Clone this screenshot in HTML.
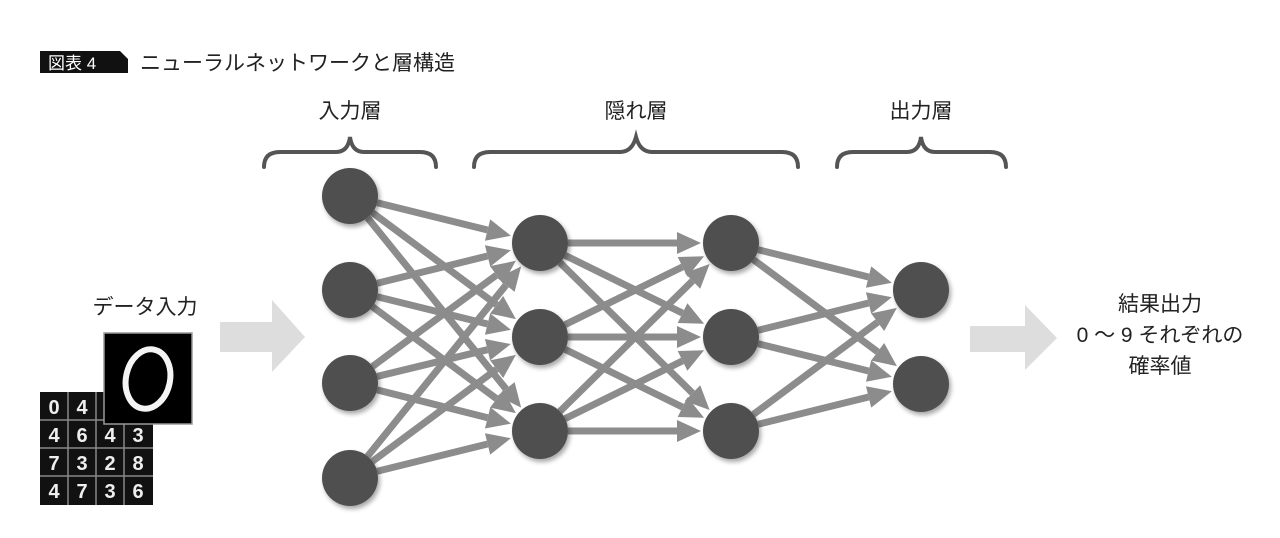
<!DOCTYPE html>
<html><head><meta charset="utf-8"><style>
html,body{margin:0;padding:0;background:#fff;width:1280px;height:538px;overflow:hidden}
svg text{font-family:"Liberation Sans","Noto Sans CJK JP",sans-serif;fill:#222}
</style></head><body>
<svg id="s" width="1280" height="538" viewBox="0 0 1280 538" xmlns="http://www.w3.org/2000/svg">
<defs><filter id="sh" x="-30%" y="-30%" width="160%" height="160%"><feGaussianBlur in="SourceAlpha" stdDeviation="2.5"/><feOffset dx="2" dy="3"/><feComponentTransfer><feFuncA type="linear" slope="0.35"/></feComponentTransfer><feMerge><feMergeNode/><feMergeNode in="SourceGraphic"/></feMerge></filter></defs>
<polygon points="40,51 120,51 128,59 128,73 40,73" fill="#111"/>
<text x="48" y="69" font-size="17" style="fill:#fff">図表 4</text>
<text x="140" y="70" font-size="21">ニューラルネットワークと層構造</text>
<g font-size="21" text-anchor="middle">
<text x="350" y="118">入力層</text><text x="636" y="118">隠れ層</text><text x="921" y="118">出力層</text>
</g>
<g fill="none" stroke="#555" stroke-width="4" stroke-linecap="round">
<path d="M264,167 Q264,152 280,152 L336,152 Q348,152 350,137 Q352,152 364,152 L420,152 Q436,152 436,167"/>
<path d="M474,167 Q474,152 490,152 L620,152 Q632,152 636,137 Q640,152 652,152 L782,152 Q798,152 798,167"/>
<path d="M837,167 Q837,152 853,152 L907,152 Q919,152 921,137 Q923,152 935,152 L990,152 Q1006,152 1006,167"/>
</g>
<polygon points="220,322 272,322 272,300 305,337 272,372 272,352 220,352" fill="#ddd"/>
<polygon points="970,326 1025,326 1025,305 1057,338 1025,370 1025,352 970,352" fill="#ddd"/>
<text x="145" y="314" font-size="21" text-anchor="middle">データ入力</text>
<g font-size="21" text-anchor="middle">
<text x="1160" y="311">結果出力</text><text x="1160" y="342">0 ～ 9 それぞれの</text><text x="1160" y="373">確率値</text>
</g>
<rect x="40" y="392" width="113" height="113" fill="#111"/>
<g stroke="#888" stroke-width="1.5"><path d="M68,392V505M96,392V505M124,392V505M40,420H153M40,448H153M40,476H153"/></g>
<g font-size="20" text-anchor="middle" font-weight="bold">
<text x="54" y="414" style="fill:#eee">0</text><text x="82" y="414" style="fill:#eee">4</text>
<text x="54" y="442" style="fill:#eee">4</text><text x="82" y="442" style="fill:#eee">6</text><text x="110" y="442" style="fill:#eee">4</text><text x="138" y="442" style="fill:#eee">3</text>
<text x="54" y="470" style="fill:#eee">7</text><text x="82" y="470" style="fill:#eee">3</text><text x="110" y="470" style="fill:#eee">2</text><text x="138" y="470" style="fill:#eee">8</text>
<text x="54" y="498" style="fill:#eee">4</text><text x="82" y="498" style="fill:#eee">7</text><text x="110" y="498" style="fill:#eee">3</text><text x="138" y="498" style="fill:#eee">6</text>
</g>
<rect x="104" y="333" width="88" height="91" fill="#000" stroke="#999" stroke-width="1.5"/>
<ellipse cx="148" cy="379" rx="22" ry="30" fill="none" stroke="#f4f4f4" stroke-width="6" transform="rotate(12 148 379)"/>
<g id="edges"></g><g id="nodes"></g>
</svg>
<script>
var L=[[[350,196],[350,290],[350,383],[350,478]],[[540,243],[540,337],[540,431]],[[731,243],[731,337],[731,431]],[[921,290],[921,384]]];
var ns="http://www.w3.org/2000/svg",E=document.getElementById('edges'),N=document.getElementById('nodes'),r=28;
for(var i=0;i<3;i++)for(var a of L[i])for(var b of L[i+1]){
var dx=b[0]-a[0],dy=b[1]-a[1],d=Math.hypot(dx,dy),ux=dx/d,uy=dy/d;
var sx=a[0]+ux*r,sy=a[1]+uy*r,tx=b[0]-ux*(r+2),ty=b[1]-uy*(r+2),hx=tx-ux*24,hy=ty-uy*24;
var l=document.createElementNS(ns,'line');l.setAttribute('x1',sx);l.setAttribute('y1',sy);l.setAttribute('x2',hx);l.setAttribute('y2',hy);
l.setAttribute('stroke','#8c8c8c');l.setAttribute('stroke-width','7');E.appendChild(l);
var p=document.createElementNS(ns,'polygon');var px=-uy,py=ux;
p.setAttribute('points',tx+','+ty+' '+(hx+px*11)+','+(hy+py*11)+' '+(hx-px*11)+','+(hy-py*11));p.setAttribute('fill','#8c8c8c');E.appendChild(p);}
for(var Ly of L)for(var c of Ly){var e=document.createElementNS(ns,'circle');e.setAttribute('cx',c[0]);e.setAttribute('cy',c[1]);e.setAttribute('r',r);e.setAttribute('fill','#505050');e.setAttribute('filter','url(#sh)');N.appendChild(e);}
</script>
</body></html>
